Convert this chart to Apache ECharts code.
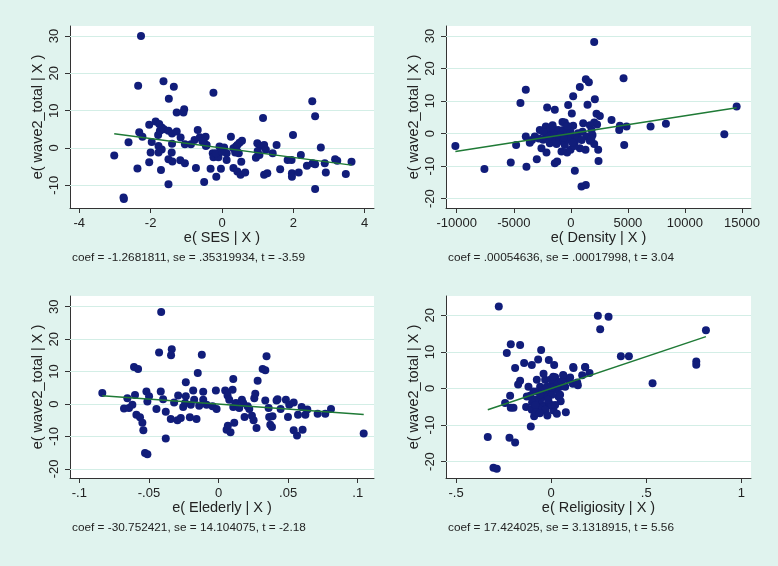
<!DOCTYPE html>
<html>
<head>
<meta charset="utf-8">
<script src="https://cdn.jsdelivr.net/npm/echarts@6/dist/echarts.min.js"></script>
<style>
html,body{margin:0;padding:0;background:#e0f3ee;}
#chart{width:778px;height:566px;}
</style>
</head>
<body>
<div id="chart"></div>
<script>
// ---------- DATA ----------
const yTitle = "e( wave2_total | X )";
const xTitles = ["e( SES | X )", "e( Density | X )", "e( Elederly | X )", "e( Religiosity | X )"];
const notes = [
  "coef = -1.2681811, se = .35319934, t = -3.59",
  "coef = .00054636, se = .00017998, t = 3.04",
  "coef = -30.752421, se = 14.104075, t = -2.18",
  "coef = 17.424025, se = 3.1318915, t = 5.56"
];
const coefs = [-1.2681811, 0.00054636, -30.752421, 17.424025];

const xTicks1 = [-4, -2, 0, 2, 4];
const xTicks2 = [-10000, -5000, 0, 5000, 10000, 15000];
const xTicks3 = [-0.1, -0.05, 0, 0.05, 0.1];
const xTicks4 = [-0.5, 0, 0.5, 1];
const yTicks1 = [-10, 0, 10, 20, 30];
const yTicks2 = [-20, -10, 0, 10, 20, 30];
const yTicks3 = [-20, -10, 0, 10, 20, 30];
const yTicks4 = [-20, -10, 0, 10, 20];

const sesPoints = [[-2.27,30],[-2.35,16.7],[-1.64,17.9],[-1.35,16.4],[-0.24,14.8],[-1.49,13.2],[-1.27,9.5],[-1.06,10.4],[-1.08,9.5],[2.53,12.5],[2.61,8.5],[1.15,8.0],[-2.04,6.25],[-1.86,7.1],[-1.76,6.4],[-2.32,4.2],[-2.23,3.0],[-2.62,1.5],[-3.02,-2.05],[-2.37,-5.5],[-2.76,-13.3],[-2.75,-13.7],[-1.50,-9.7],[-1.71,-5.9],[-2.04,-3.8],[-2.0,-1.25],[-1.97,1.6],[-1.79,3.5],[-1.74,4.6],[-1.69,5.5],[-1.63,5.0],[-1.50,4.6],[-1.40,3.9],[-1.27,4.4],[-1.16,2.8],[-1.40,1.1],[-1.04,1.0],[-1.78,0.5],[-1.69,-0.4],[-1.78,-1.25],[-1.41,-1.25],[-1.50,-3.0],[-1.39,-3.6],[-1.17,-3.3],[-1.04,-4.1],[-0.73,-5.4],[-0.50,-9.1],[-0.87,1.0],[-0.77,2.1],[-0.68,4.8],[-0.62,2.9],[-0.50,1.4],[-0.46,3.0],[-0.43,0.8],[-0.45,0.5],[-0.26,-1.4],[-0.24,-2.5],[-0.10,-2.5],[-0.17,-1.4],[-0.32,-5.6],[-0.16,-7.7],[-0.03,-5.6],[-0.07,0.4],[0.06,0.1],[0.13,-1.4],[0.13,-3.2],[0.25,3.0],[0.32,-0.1],[0.39,0.4],[0.43,0.8],[0.49,1.4],[0.56,1.9],[0.37,-1.25],[0.47,-1.4],[0.54,-3.7],[0.32,-5.4],[0.43,-6.3],[0.52,-7.2],[0.65,-6.6],[0.95,-2.6],[1.05,-1.9],[0.99,1.25],[1.07,0.5],[1.18,0.8],[1.23,-0.5],[1.42,-1.4],[1.53,0.8],[1.18,-7.2],[1.27,-6.8],[1.63,-5.7],[1.84,-3.2],[1.95,-3.2],[1.99,3.5],[1.96,-6.8],[1.96,-7.7],[2.15,-6.6],[2.21,-1.9],[2.38,-4.8],[2.54,-4.1],[2.61,-4.4],[2.77,0.1],[2.61,-11.0],[2.88,-4.1],[2.91,-6.6],[3.17,-3.0],[3.23,-3.4],[3.47,-7.0],[3.63,-3.7],[1.0,-0.8],[0.0,-1.0],[-0.55,1.8],[0.42,-0.9]];

const densityPoints = [[2047,28.2],[4620,17.0],[1316,16.7],[1579,15.8],[-3947,13.5],[-4415,9.4],[789,14.3],[205,11.5],[2105,10.6],[1462,8.9],[-234,8.8],[-2076,8.0],[-1404,7.3],[88,6.2],[2252,6.1],[2544,5.4],[3567,4.2],[-731,3.6],[-526,3.4],[205,2.4],[1082,3.2],[1667,2.6],[2047,3.4],[4298,2.4],[4883,2.2],[4240,1.1],[6988,2.2],[8333,3.0],[14532,8.3],[13450,-0.2],[-10117,-3.8],[-7573,-10.9],[-5263,-8.9],[-4795,-3.5],[-3947,-0.9],[-3889,-10.2],[-2982,-7.9],[-3596,-2.8],[-3158,-0.9],[-2719,1.1],[-2193,2.2],[-1842,1.1],[-1550,1.6],[-1111,1.1],[-2135,-0.4],[-1404,-0.4],[-2427,-1.9],[-1842,-3.0],[-2573,-4.5],[-2135,-5.8],[-1111,-1.9],[-672,-2.5],[-819,-5.5],[-1404,-9.1],[-1199,-8.6],[-526,-3.5],[-322,-5.8],[-29,-5.0],[351,-2.5],[351,-11.4],[936,-16.3],[1316,-15.8],[789,-4.5],[1287,-5.0],[643,0.1],[1023,0.6],[1374,-0.9],[1813,1.1],[1901,-0.4],[2047,-3.2],[1667,-2.2],[2398,-5.0],[2427,-8.4],[4678,-3.5],[-380,0.1],[-29,0.6],[-672,1.1],[58,-0.9],[-234,-1.9],[585,-1.4],[-3400,-2.0],[-1700,-1.5],[-900,-0.5],[300,-3.8],[1800,-1.5],[-2400,0.5],[2300,2.8],[-1900,-1.0],[-1250,-3.2],[-600,-1.2],[150,-2.8],[950,-2.0],[-2800,-1.5],[-1600,2.6],[-300,2.3]];

const elderlyPoints = [[-0.0412,28.4],[-0.0427,15.9],[-0.0336,16.9],[-0.0341,15.0],[-0.0120,15.2],[0.0345,14.7],[0.0317,10.8],[0.0336,10.4],[-0.0607,11.4],[-0.0578,10.8],[-0.0149,9.6],[-0.0235,6.7],[0.0106,7.7],[0.0281,7.2],[-0.0835,3.4],[-0.0655,1.8],[-0.0679,-1.4],[-0.0643,-1.2],[-0.0619,-0.2],[-0.0600,2.8],[-0.0590,-3.3],[-0.0564,-4.1],[-0.0547,-5.8],[-0.0540,-8.1],[-0.0528,-15.1],[-0.0511,-15.5],[-0.0518,3.9],[-0.0511,0.8],[-0.0499,2.4],[-0.0446,-1.5],[-0.0415,3.9],[-0.0398,1.5],[-0.0379,-2.4],[-0.0379,-10.6],[-0.0343,-4.6],[-0.0319,0.5],[-0.0290,2.6],[-0.0295,-5.0],[-0.0271,-4.3],[-0.0254,-0.9],[-0.0235,2.4],[-0.0240,0.3],[-0.0206,-4.1],[-0.0199,-0.2],[-0.0182,4.2],[-0.0175,1.3],[-0.0158,-4.6],[-0.0139,-0.5],[-0.0110,3.8],[-0.0110,1.3],[-0.0086,-0.2],[-0.0043,-0.7],[-0.0019,4.2],[-0.0014,-1.5],[0.0048,4.2],[0.0065,2.6],[0.0077,1.3],[0.0101,4.4],[0.0058,-7.9],[0.0067,-6.7],[0.0086,-8.7],[0.0113,-5.8],[0.0106,-0.9],[0.0125,0.3],[0.0149,-1.2],[0.0168,1.3],[0.0177,0.3],[0.0209,-0.7],[0.0187,-4.0],[0.0221,-1.5],[0.0240,-3.6],[0.0252,-5.0],[0.0257,1.8],[0.0264,3.2],[0.0273,-7.4],[0.0336,1.1],[0.0360,-1.2],[0.0364,-4.0],[0.0372,-6.4],[0.0384,-7.1],[0.0388,-3.8],[0.0417,1.1],[0.0424,1.5],[0.0446,-1.5],[0.0484,1.3],[0.0499,-4.0],[0.0508,-0.2],[0.0540,0.5],[0.0540,-8.1],[0.0564,-9.7],[0.0571,-3.3],[0.0597,-0.9],[0.0604,-7.9],[0.0624,-3.3],[0.0638,-1.7],[0.0712,-3.0],[0.0767,-3.0],[0.0808,-1.5],[0.1043,-9.1]];

const religiosityPoints = [[-0.2754,22.4],[0.2456,19.9],[0.3018,19.6],[0.2579,16.2],[0.814,15.9],[-0.2123,12.1],[-0.1632,11.9],[-0.2333,9.7],[-0.0526,10.5],[-0.0684,7.9],[-0.0123,7.8],[-0.1421,7.0],[-0.1018,6.4],[0.0158,6.4],[-0.1895,5.6],[0.3667,8.8],[0.4088,8.8],[0.7632,7.4],[0.7632,6.5],[0.5333,1.4],[0.1789,5.8],[0.1175,5.6],[0.2018,4.2],[0.1632,3.6],[-0.1632,2.1],[-0.1737,1.1],[-0.2158,-2.0],[-0.2421,-4.0],[-0.2123,-5.3],[-0.1982,-5.3],[-0.1316,-5.1],[-0.1070,-10.4],[-0.3333,-13.3],[-0.2193,-13.5],[-0.1895,-14.8],[-0.3035,-21.7],[-0.2860,-22.0],[0.0772,-6.5],[-0.1193,0.5],[-0.1105,-2.0],[-0.1018,-5.8],[-0.0895,-7.6],[-0.0754,2.4],[-0.0579,0.5],[-0.0404,-2.2],[-0.0228,-4.9],[-0.0491,-4.5],[-0.0667,-5.4],[0.0123,-6.0],[-0.0053,-0.4],[0.0211,1.5],[0.0386,-2.2],[0.0474,0.5],[0.0649,3.5],[0.0912,2.4],[0.1140,1.3],[0.1404,0.9],[0.0211,3.1],[-0.0316,2.4],[-0.0140,-3.5],[-0.0579,-3.1],[-0.0842,-3.1],[-0.0263,-1.3],[0.0035,-1.7],[0.0298,-0.4],[-0.0930,-0.8],[-0.1281,-2.2],[-0.0754,-0.8],[-0.0439,-0.4],[-0.0228,0.5],[0.0035,1.0],[0.0298,1.9],[0.0561,1.9],[0.0737,0.5],[-0.08,-6.5],[-0.03,-6.2],[0.0,-4.5],[0.05,-3.5],[-0.10,-3.8],[0.10,3.0],[-0.04,4.0],[0.0,2.5],[-0.058,-1.7],[-0.016,-3.1],[0.021,-4.5],[-0.084,-4.5],[-0.032,-5.8],[0.047,-1.7],[0.005,0.2],[0.116,5.9],[0.179,5.9],[0.063,3.7],[0.011,3.2],[0.137,1.6],[-0.06,-6.8],[-0.02,-7.4],[0.03,-6.9]];

// ---------- LAYOUT / STYLE ----------
const panels = [
  {pts: sesPoints, xt: xTicks1, yt: yTicks1, xr: [-4.26, 4.26], yr: [-16.1, 32.7], g: {left: 70, top: 26, width: 304, height: 182}},
  {pts: densityPoints, xt: xTicks2, yt: yTicks2, xr: [-10939, 15789], yr: [-22.9, 33.1], g: {left: 446, top: 26, width: 305, height: 182}},
  {pts: elderlyPoints, xt: xTicks3, yt: yTicks3, xr: [-0.1067, 0.1117], yr: [-22.8, 33.3], g: {left: 70, top: 296, width: 304, height: 182}},
  {pts: religiosityPoints, xt: xTicks4, yt: yTicks4, xr: [-0.553, 1.051], yr: [-24.5, 25.3], g: {left: 446, top: 296, width: 305, height: 182}}
];

const BG = '#e0f3ee';
const GRIDC = '#d3eee6';
const DOT = '#111d7a';
const FIT = '#1f7a36';
const AX = '#333';
const FONT = '"Liberation Sans", Arial, Helvetica, sans-serif';

function fmt(v) {
  let s = String(+v.toPrecision(6));
  return s.replace(/^(-?)0\./, '$1.');
}

const grid = [], xAxis = [], yAxis = [], series = [], graphic = [];
panels.forEach((p, i) => {
  grid.push(Object.assign({show: true, backgroundColor: '#fff', borderWidth: 0}, p.g));
  xAxis.push({
    type: 'value', gridIndex: i, min: p.xr[0], max: p.xr[1],
    name: xTitles[i], nameLocation: 'middle', nameGap: 22,
    nameTextStyle: {color: '#222', fontSize: 14.5, fontFamily: FONT, verticalAlign: 'top'},
    axisLine: {show: true, onZero: false, lineStyle: {color: AX, width: 1}},
    axisTick: {show: true, length: 5, customValues: p.xt, lineStyle: {color: AX}},
    axisLabel: {customValues: p.xt, formatter: fmt, color: '#222', fontSize: 13, fontFamily: FONT, margin: 9},
    splitLine: {show: false}
  });
  yAxis.push({
    type: 'value', gridIndex: i, min: p.yr[0], max: p.yr[1],
    name: yTitle, nameLocation: 'middle', nameGap: 25,
    nameTextStyle: {color: '#222', fontSize: 14.5, fontFamily: FONT},
    axisLine: {show: true, onZero: false, lineStyle: {color: AX, width: 1}},
    axisTick: {show: true, length: 5, customValues: p.yt, lineStyle: {color: AX}},
    axisLabel: {customValues: p.yt, formatter: fmt, rotate: 90, color: '#222', fontSize: 13, fontFamily: FONT, margin: 9},
    splitLine: {show: false}
  });
  series.push({
    type: 'scatter', xAxisIndex: i, yAxisIndex: i, data: p.pts,
    symbol: 'circle', symbolSize: 8, itemStyle: {color: DOT, opacity: 1},
    z: 2, silent: true,
    markLine: {
      silent: true, symbol: 'none', z: 1, animation: false,
      label: {show: false},
      lineStyle: {color: GRIDC, width: 1, type: 'solid'},
      emphasis: {disabled: true},
      data: p.yt.map(v => ({yAxis: v}))
    }
  });
  const xs = p.pts.map(d => d[0]);
  const x0 = Math.min(...xs), x1 = Math.max(...xs);
  series.push({
    type: 'line', xAxisIndex: i, yAxisIndex: i,
    data: [[x0, coefs[i] * x0], [x1, coefs[i] * x1]],
    symbol: 'none', lineStyle: {color: FIT, width: 1.5}, z: 3, silent: true
  });
  graphic.push({
    type: 'text', left: p.g.left + 2, top: p.g.top + p.g.height + 44,
    style: {text: notes[i], fill: '#222', font: '11.8px ' + FONT}
  });
});

const chart = echarts.init(document.getElementById('chart'), null, {renderer: 'canvas'});
chart.setOption({
  backgroundColor: BG,
  animation: false,
  grid, xAxis, yAxis, series, graphic
});
</script>
</body>
</html>
